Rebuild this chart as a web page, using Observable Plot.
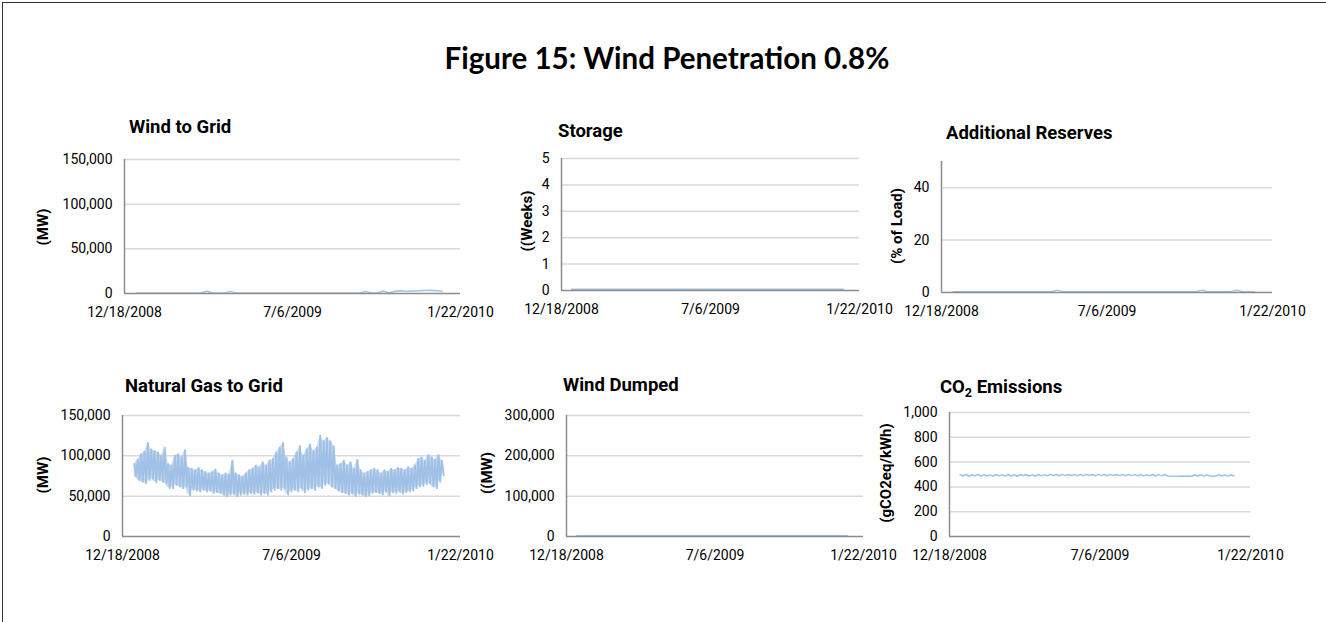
<!DOCTYPE html>
<html>
<head>
<meta charset="utf-8">
<script src="https://cdn.jsdelivr.net/npm/d3@7"></script>
<script src="https://cdn.jsdelivr.net/npm/@observablehq/plot@0.6"></script>
<style>
  html, body { margin: 0; padding: 0; background: #fff; }
  #root { position: relative; width: 1326px; height: 622px; overflow: hidden; background: #fff; font-family: Roboto, "Liberation Sans", sans-serif; color: #000; }
  #frame { position: absolute; left: 2px; top: 2px; width: 1400px; height: 700px; border-left: 1.5px solid #333; border-top: 1.5px solid #333; }
  #maintitle { position: absolute; left: 0; width: 1334px; text-align: center; top: 43px; font: bold 29.5px Lato, "Open Sans", sans-serif; line-height: 1; }
  .ptitle { position: absolute; font-family: Roboto, sans-serif; font-weight: bold; font-size: 18.5px; line-height: 1; white-space: nowrap; }
  .ptitle sub { font-size: 0.68em; vertical-align: -0.28em; line-height: 0; }
  .ylab { position: absolute; font-family: Roboto, sans-serif; font-weight: bold; font-size: 15px; line-height: 1; white-space: nowrap; transform: translate(-50%, -50%) rotate(-90deg); }
  .panel { position: absolute; }
</style>
</head>
<body>
<div id="root">
  <div id="frame"></div>
  <div id="maintitle">Figure 15: Wind Penetration 0.8%</div>
</div>
<script>
// ---------------- DATA ----------------
const xTickDates = ["2008-12-18", "2009-07-06", "2010-01-22"];
const seriesStart = "2009-01-01";

// Wind to Grid (MW), weekly
const windToGrid = [500,450,520,480,500,470,530,490,510,460,500,480,2600,520,480,500,2400,470,510,490,500,480,460,500,520,490,480,510,470,500,490,480,510,500,470,490,520,480,500,2200,520,480,2800,500,2600,3000,2400,2800,3200,3400,3600,3200,2600];

// Storage (weeks), monthly
const storage = [0.03,0.03,0.03,0.03,0.03,0.03,0.03,0.03,0.03,0.03,0.03,0.03,0.03];

// Additional Reserves (% of load), weekly
const reserves = [0.3,0.3,0.3,0.3,0.3,0.3,0.3,0.3,0.3,0.3,0.3,0.3,0.3,0.3,0.3,0.3,0.3,0.3,0.9,0.3,0.3,0.3,0.3,0.3,0.3,0.3,0.3,0.3,0.3,0.3,0.3,0.3,0.3,0.3,0.3,0.3,0.3,0.3,0.3,0.3,0.3,0.3,0.3,0.9,0.3,0.3,0.3,0.3,0.3,0.9,0.3,0.3,0.3];

// Natural Gas to Grid (thousand MW): highs and lows per 4-day period
const gasHigh = [90,95,102,105,116,108,106,104,100,110,90,88,100,102,98,107,85,84,82,85,82,80,78,80,83,78,76,78,77,94,78,76,74,78,82,84,88,86,92,88,94,96,104,110,116,98,92,96,104,112,100,108,114,106,110,125,118,122,118,112,88,90,94,88,92,84,95,82,78,80,82,84,82,78,82,80,84,82,85,84,82,86,84,88,96,98,94,101,98,95,101,94];
const gasLow  = [75,70,68,66,70,72,67,70,68,66,60,60,64,62,60,62,51,58,57,56,58,56,57,54,55,54,52,50,52,53,50,52,53,52,54,53,55,52,54,52,56,58,60,58,60,52,56,58,56,60,55,58,60,58,62,60,64,66,62,60,57,55,54,52,54,50,53,52,50,51,54,55,54,52,56,51,55,54,56,53,55,56,57,60,62,63,65,66,62,60,68,76];

// Wind Dumped (MW), monthly
const windDumped = [1000,1000,1000,1000,1000,1000,1000,1000,1000,1000,1000,1000,1000];

// CO2 Emissions (gCO2eq/kWh), every 4 days
const co2 = [498,488,500,486,498,490,500,487,499,488,497,486,500,489,498,487,500,488,499,486,498,490,500,488,497,487,500,489,499,490,501,492,500,490,501,491,500,492,501,490,500,491,501,492,500,490,501,491,500,490,501,492,500,491,501,490,500,491,499,490,500,489,499,490,500,488,499,489,500,488,486,486,486,486,487,486,487,486,498,488,497,487,499,488,486,487,498,488,497,487,498,488];

// ---------------- HELPERS ----------------
const DAY = 864e5;
const parse = d3.utcParse("%Y-%m-%d");
const t0 = parse(seriesStart).getTime();
const xTicks = xTickDates.map(parse);
const xDomain = [xTicks[0], xTicks[xTicks.length - 1]];
const fmtDate = d3.utcFormat("%-m/%-d/%Y");
const LINE = "#9dc3e6";
const GAS = "#a0c0e6";

const series = (values, stepDays, scale = 1) =>
  values.map((v, i) => ({date: new Date(t0 + i * stepDays * DAY), value: v * scale}));
const weekly = (values) => series(values, 7);
const monthly = (values) => values.map((v, i) => ({date: new Date(i === 12 ? Date.UTC(2009, 11, 31) : Date.UTC(2009, i, 1)), value: v}));

// band (lows to highs) and zigzag of highs and lows
const gasBand = gasHigh.map((h, i) => ({date: new Date(t0 + 4 * i * DAY), hi: h * 1000, lo: gasLow[i] * 1000}));
const gasPoints = [];
gasHigh.forEach((h, i) => {
  gasPoints.push({date: new Date(t0 + (4 * i) * DAY), value: h * 1000});
  gasPoints.push({date: new Date(t0 + (4 * i + 2) * DAY), value: gasLow[i] * 1000});
});

const root = document.getElementById("root");

function addText(cls, html, styles) {
  const d = document.createElement("div");
  d.className = cls;
  d.innerHTML = html;
  Object.assign(d.style, styles);
  root.appendChild(d);
}

function panel(cfg) {
  const mL = 80, mR = 50, mT = 12, mB = 40;
  const svg = Plot.plot({
    width: cfg.w + mL + mR,
    height: cfg.h + mT + mB,
    marginLeft: mL, marginRight: mR, marginTop: mT, marginBottom: mB,
    style: {background: "transparent", overflow: "visible", maxWidth: "none", fontFamily: "Roboto, sans-serif", fontSize: "14px", color: "#000"},
    x: {type: "utc", domain: xDomain, ticks: xTicks, tickFormat: fmtDate, tickSize: 0, tickPadding: 14, label: null},
    y: {domain: cfg.yDomain, ticks: cfg.yTicks, tickFormat: cfg.yFormat, tickSize: 0, tickPadding: 12, label: null},
    marks: [
      Plot.ruleY(cfg.yTicks.filter(t => t !== 0), {stroke: "#d9d9d9", strokeWidth: 1.5}),
      ...cfg.marks,
      Plot.ruleY([0], {stroke: "#8c8c8c", strokeWidth: 1.5}),
      Plot.ruleX([xDomain[0]], {stroke: "#8c8c8c", strokeWidth: 1.5})
    ]
  });
  svg.classList.add("panel");
  svg.style.position = "absolute";
  svg.style.left = (cfg.left - mL) + "px";
  svg.style.top = (cfg.top - mT) + "px";
  root.appendChild(svg);
  addText("ptitle", cfg.title, {left: cfg.titleX + "px", top: (cfg.titleBase - 15.6) + "px"});
  addText("ylab", cfg.ylabel, {left: cfg.ylabX + "px", top: cfg.ylabY + "px"});
}

const comma = d3.format(",");

panel({
  left: 124, top: 159, w: 336, h: 134,
  yDomain: [0, 150000], yTicks: [0, 50000, 100000, 150000], yFormat: comma,
  title: "Wind to Grid", titleX: 129, titleBase: 134,
  ylabel: "(MW)", ylabX: 43, ylabY: 227,
  marks: [Plot.line(weekly(windToGrid), {x: "date", y: "value", stroke: LINE, strokeWidth: 1.5})]
});

panel({
  left: 561, top: 158, w: 298, h: 132,
  yDomain: [0, 5], yTicks: [0, 1, 2, 3, 4, 5], yFormat: d3.format("d"),
  title: "Storage", titleX: 558, titleBase: 138,
  ylabel: "((Weeks)", ylabX: 527, ylabY: 221,
  marks: [Plot.line(monthly(storage), {x: "date", y: "value", stroke: LINE, strokeWidth: 2.2})]
});

panel({
  left: 941, top: 161, w: 331, h: 131,
  yDomain: [0, 50], yTicks: [0, 20, 40], yFormat: d3.format("d"),
  title: "Additional Reserves", titleX: 946, titleBase: 140,
  ylabel: "(% of Load)", ylabX: 897, ylabY: 226,
  marks: [Plot.line(weekly(reserves), {x: "date", y: "value", stroke: LINE, strokeWidth: 1.5})]
});

panel({
  left: 122, top: 415, w: 338, h: 121,
  yDomain: [0, 150000], yTicks: [0, 50000, 100000, 150000], yFormat: comma,
  title: "Natural Gas to Grid", titleX: 125, titleBase: 393,
  ylabel: "(MW)", ylabX: 43, ylabY: 475,
  marks: [
    Plot.areaY(gasBand, {x: "date", y1: "lo", y2: "hi", fill: GAS, fillOpacity: 0.55, curve: "linear"}),
    Plot.line(gasPoints, {x: "date", y: "value", stroke: GAS, strokeWidth: 2})
  ]
});

panel({
  left: 566, top: 415, w: 297, h: 121,
  yDomain: [0, 300000], yTicks: [0, 100000, 200000, 300000], yFormat: comma,
  title: "Wind Dumped", titleX: 563, titleBase: 392,
  ylabel: "((MW)", ylabX: 487, ylabY: 473,
  marks: [Plot.line(monthly(windDumped), {x: "date", y: "value", stroke: LINE, strokeWidth: 2})]
});

panel({
  left: 949, top: 412, w: 301, h: 124,
  yDomain: [0, 1000], yTicks: [0, 200, 400, 600, 800, 1000], yFormat: comma,
  title: "CO<sub>2</sub> Emissions", titleX: 940, titleBase: 394,
  ylabel: "(gCO2eq/kWh)", ylabX: 886, ylabY: 473,
  marks: [Plot.line(series(co2, 4), {x: "date", y: "value", stroke: LINE, strokeWidth: 1.5})]
});
</script>
</body>
</html>
